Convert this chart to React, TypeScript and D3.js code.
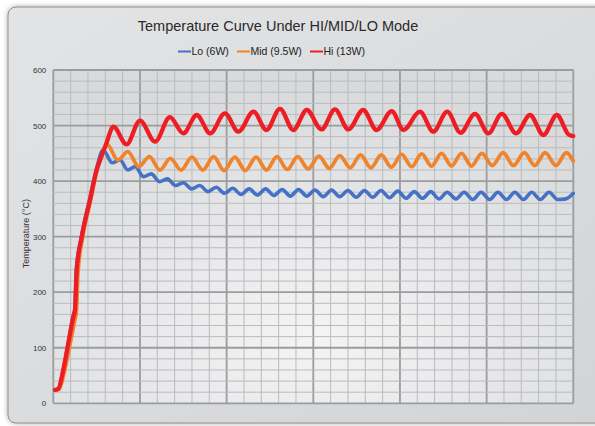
import React, { useEffect, useRef } from 'react';
import * as d3 from 'd3';

// Time axis runs 0..120 (no labels shown), temperatures in °C
const loTime = [0.4, 1.2, 2.3, 3.5, 4.6, 5.0, 5.3, 6.5, 8.4, 9.9, 11.5,
  13.6, 15.4, 17.2, 18.9, 20.8, 22.6, 24.5, 26.3, 28.2, 30.0, 31.9, 33.8, 35.7, 37.6, 39.5, 41.4,
  43.3, 45.2, 47.1, 49.0, 50.9, 52.8, 54.7, 56.6, 58.5, 60.4, 62.3, 64.2, 66.1, 68.0, 69.9, 71.8,
  73.7, 75.6, 77.6, 79.5, 81.4, 83.3, 85.2, 87.1, 89.0, 90.9, 92.9, 94.8, 96.8, 98.7, 100.7, 102.6,
  104.6, 106.5, 108.5, 110.4, 112.4, 114.4, 116.4, 118.3, 120];
const loTemp = [24, 26, 60, 110, 158, 170, 240, 300, 368, 420, 456,
  433, 438, 420, 426, 408, 413, 399, 404, 392, 397, 386, 392, 381, 389, 378, 387,
  376, 386, 375, 386, 374, 385, 373, 385, 373, 384, 372, 384, 372, 383, 371, 383,
  371, 383, 370, 382, 369, 381, 369, 381, 368, 380, 368, 380, 367, 380, 367, 380,
  367, 380, 367, 380, 367, 380, 367, 368, 378];

const midTime = [0.4, 1.3, 2.5, 3.7, 4.9, 5.3, 5.7, 6.8, 8.6, 10.1, 11.3, 12.4,
  14.9, 17.2, 19.7, 22.2, 24.6, 27.0, 29.5, 32.0, 34.5, 37.0, 39.4, 41.9, 44.3, 46.8, 49.2,
  51.6, 54.0, 56.4, 58.8, 61.3, 63.7, 66.1, 68.5, 70.9, 73.3, 75.7, 78.0, 80.4, 82.7, 85.0,
  87.3, 89.6, 91.9, 94.2, 96.5, 98.9, 101.3, 103.8, 106.2, 108.7, 111.1, 113.5, 116.0, 118.4, 120];
const midTemp = [24, 25, 55, 100, 148, 163, 236, 300, 366, 420, 448, 466,
  438, 453, 426, 444, 420, 441, 420, 443, 420, 444, 419, 443, 419, 443, 420,
  444, 421, 444, 422, 445, 423, 446, 424, 447, 424, 447, 425, 448, 426, 449,
  427, 450, 427, 450, 427, 450, 428, 451, 428, 451, 428, 451, 428, 451, 436];

const hiTime = [0.4, 1.15, 2.3, 3.46, 4.6, 5.0, 5.4, 6.55, 8.47, 10.0, 10.8, 12.3, 13.85,
  16.9, 20.0, 23.5, 26.9, 30.0, 33.1, 36.2, 39.6, 42.7, 46.2, 49.2, 52.3, 55.4, 58.5,
  61.9, 65.0, 68.1, 71.5, 74.6, 78.1, 80.8, 84.6, 87.7, 90.9, 94.0, 97.3, 100.4, 103.5,
  106.8, 110.0, 113.1, 116.2, 118.9, 120];
const hiTemp = [24, 26, 60, 108, 155, 168, 240, 299, 366, 420, 438, 469, 498,
  466, 509, 471, 515, 486, 519, 486, 522, 489, 525, 492, 530, 492, 528,
  493, 529, 493, 528, 492, 526, 492, 525, 489, 525, 487, 521, 486, 521,
  486, 519, 483, 519, 484, 481];

const seriesNames = ['Lo (6W)', 'Mid (9.5W)', 'Hi (13W)'];
const seriesColors = ['#4472c4', '#f0842c', '#ee1d24'];
const yTicks = [0, 100, 200, 300, 400, 500, 600];

const FONT = '"Liberation Sans", Arial, Helvetica, sans-serif';

export default function App() {
  const svgRef = useRef<SVGSVGElement>(null);

  useEffect(() => {
    if (!svgRef.current) return;
    const svg = d3.select(svgRef.current);
    svg.selectAll('*').remove();

    const width = 595;
    const height = 426;
    const plot = { left: 53.3, right: 573.3, top: 70, bottom: 403.3 };

    const x = d3.scaleLinear().domain([0, 120]).range([plot.left, plot.right]);
    const y = d3.scaleLinear().domain([0, 600]).range([plot.bottom, plot.top]);

    const defs = svg.append('defs');
    const frameGrad = defs.append('linearGradient')
      .attr('id', 'frameGrad').attr('x1', 0).attr('y1', 0).attr('x2', 1).attr('y2', 1);
    frameGrad.append('stop').attr('offset', '0%').attr('stop-color', '#e3e4e5');
    frameGrad.append('stop').attr('offset', '100%').attr('stop-color', '#d2d3d5');

    const plotGrad = defs.append('radialGradient')
      .attr('id', 'plotGrad').attr('cx', '50%').attr('cy', '80%').attr('r', '75%');
    plotGrad.append('stop').attr('offset', '0%').attr('stop-color', '#f4f4f5');
    plotGrad.append('stop').attr('offset', '100%').attr('stop-color', '#d9dadc');

    const shadow = defs.append('filter').attr('id', 'shadow')
      .attr('x', '-5%').attr('y', '-5%').attr('width', '110%').attr('height', '110%');
    shadow.append('feDropShadow')
      .attr('dx', 0).attr('dy', 0).attr('stdDeviation', 2.5)
      .attr('flood-color', '#000').attr('flood-opacity', 0.35);

    // page background + frame
    svg.append('rect').attr('width', width).attr('height', height).attr('fill', '#ffffff');
    svg.append('rect')
      .attr('x', 8).attr('y', 7).attr('width', 640).attr('height', 416).attr('rx', 8)
      .attr('fill', 'url(#frameGrad)')
      .attr('stroke', '#8c8d8f').attr('stroke-width', 1)
      .attr('filter', 'url(#shadow)');

    // plot background
    svg.append('rect')
      .attr('x', plot.left).attr('y', plot.top)
      .attr('width', plot.right - plot.left).attr('height', plot.bottom - plot.top)
      .attr('fill', 'url(#plotGrad)');

    // grid lines
    const grid = svg.append('g');
    d3.range(0, 121, 4).forEach(t => {
      const major = t % 20 === 0;
      grid.append('line')
        .attr('x1', x(t)).attr('x2', x(t))
        .attr('y1', plot.top).attr('y2', plot.bottom)
        .attr('stroke', major ? '#9b9c9e' : '#b9bbbd')
        .attr('stroke-width', major ? 1.8 : 1);
    });
    d3.range(0, 601, 20).forEach(v => {
      const major = v % 100 === 0;
      grid.append('line')
        .attr('x1', plot.left).attr('x2', plot.right)
        .attr('y1', y(v)).attr('y2', y(v))
        .attr('stroke', major ? '#9b9c9e' : '#b9bbbd')
        .attr('stroke-width', major ? 1.8 : 1);
    });

    // y axis labels
    svg.append('g')
      .attr('transform', `translate(${plot.left},0)`)
      .call(d3.axisLeft(y).tickValues(yTicks).tickSize(0).tickPadding(7))
      .call(g => g.select('.domain').remove())
      .selectAll('text')
      .attr('font-family', FONT)
      .attr('font-size', 8)
      .attr('fill', '#333');

    svg.append('text')
      .attr('transform', `translate(29,${(plot.top + plot.bottom) / 2 - 3}) rotate(-90)`)
      .attr('text-anchor', 'middle')
      .attr('font-family', FONT)
      .attr('font-size', 9)
      .attr('fill', '#333')
      .text('Temperature (°C)');

    // lines
    const line = d3.line<[number, number]>()
      .x(d => x(d[0]))
      .y(d => y(d[1]))
      .curve(d3.curveMonotoneX);

    const series: [number, number][][] = [
      loTime.map((t, i) => [t, loTemp[i]]),
      midTime.map((t, i) => [t, midTemp[i]]),
      hiTime.map((t, i) => [t, hiTemp[i]]),
    ];
    const widths = [3.6, 3.8, 4.3];
    series.forEach((data, i) => {
      svg.append('path')
        .datum(data)
        .attr('fill', 'none')
        .attr('stroke', seriesColors[i])
        .attr('stroke-width', widths[i])
        .attr('stroke-linejoin', 'round')
        .attr('stroke-linecap', 'round')
        .attr('d', line);
    });

    // title
    svg.append('text')
      .attr('x', 278).attr('y', 31)
      .attr('text-anchor', 'middle')
      .attr('font-family', FONT)
      .attr('font-size', 14.5)
      .attr('fill', '#2a2a2a')
      .text('Temperature Curve Under HI/MID/LO Mode');

    // legend
    const legendX = [178, 237, 310];
    const legend = svg.append('g');
    seriesNames.forEach((name, i) => {
      legend.append('line')
        .attr('x1', legendX[i]).attr('x2', legendX[i] + 13)
        .attr('y1', 51.5).attr('y2', 51.5)
        .attr('stroke', seriesColors[i]).attr('stroke-width', 2);
      legend.append('text')
        .attr('x', legendX[i] + 13.5).attr('y', 55)
        .attr('font-family', FONT)
        .attr('font-size', 10.5)
        .attr('fill', '#222')
        .text(name);
    });
  }, []);

  return (
    <svg
      ref={svgRef}
      width={595}
      height={426}
      style={{ position: 'absolute', left: 0, top: 0 }}
    />
  );
}
